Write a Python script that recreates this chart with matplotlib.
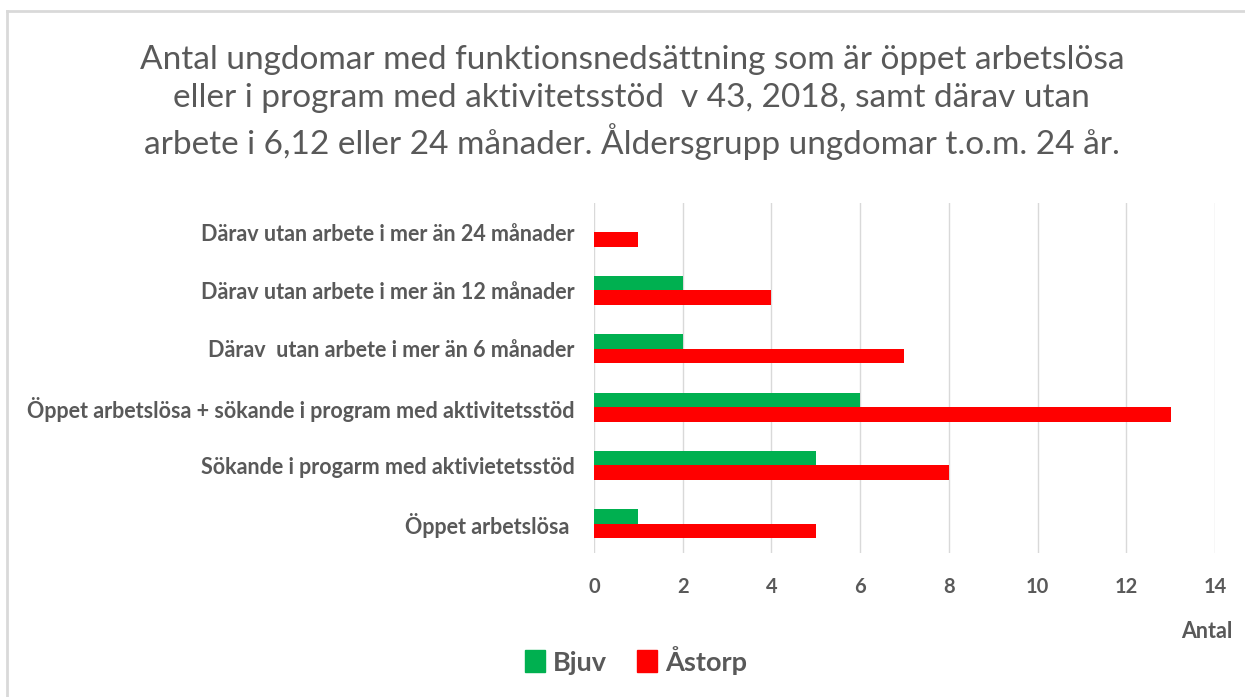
import matplotlib.pyplot as plt
import numpy as np
from matplotlib.patches import Patch
from matplotlib.lines import Line2D

plt.rcParams['font.family'] = ['Lato', 'DejaVu Sans']

# data (bottom to top)
categories = ['Öppet arbetslösa ',
              'Sökande i progarm med aktivietetsstöd',
              'Öppet arbetslösa + sökande i program med aktivitetsstöd',
              'Därav  utan arbete i mer än 6 månader',
              'Därav utan arbete i mer än 12 månader',
              'Därav utan arbete i mer än 24 månader']
bjuv = [1, 5, 6, 2, 2, 0]
astorp = [5, 8, 13, 7, 4, 1]
xticks = [0, 2, 4, 6, 8, 10, 12, 14]

green = '#00B050'
red = '#FF0000'
txt = '#595959'

fig = plt.figure(figsize=(12.45, 6.97), dpi=100)
ax = fig.add_axes([0.4771, 0.2066, 0.4988, 0.5022])

y = np.arange(len(categories))
h = 0.25
ax.barh(y + h/2, bjuv, height=h, color=green, label='Bjuv', zorder=3)
ax.barh(y - h/2, astorp, height=h, color=red, label='Åstorp', zorder=3)

ax.set_xlim(0, 14)
ax.set_ylim(-0.5, len(categories) - 0.5)
ax.set_xticks(xticks)
ax.set_yticks(y)
ax.set_yticklabels(categories)
ax.grid(axis='x', color='#d9d9d9', linewidth=1, zorder=0)
for s in ax.spines.values():
    s.set_visible(False)
ax.tick_params(length=0)
ax.tick_params(axis='y', pad=14, labelsize=15.5, labelcolor=txt)
ax.tick_params(axis='x', pad=17, labelsize=14.5, labelcolor=txt)
for lab in ax.get_xticklabels() + ax.get_yticklabels():
    lab.set_fontweight('bold')

fig.text(0.5075, 0.853,
         'Antal ungdomar med funktionsnedsättning som är öppet arbetslösa\n'
         'eller i program med aktivitetsstöd  v 43, 2018, samt därav utan\n'
         'arbete i 6,12 eller 24 månader. Åldersgrupp ungdomar t.o.m. 24 år.',
         ha='center', va='center', fontsize=24, color=txt,
         linespacing=1.32)

fig.text(0.990, 0.094, 'Antal', ha='right', va='center', fontsize=15.5,
         fontweight='bold', color=txt)

handles = [Patch(color=green), Patch(color=red)]
fig.legend(handles, ['Bjuv', 'Åstorp'], loc='center', bbox_to_anchor=(0.511, 0.053),
           ncol=2, frameon=False, handlelength=0.75, handleheight=0.85,
           handletextpad=0.3, columnspacing=1.1,
           prop={'size': 19.5, 'weight': 'bold'}, labelcolor=txt)

# outer chart frame
fig.add_artist(Line2D([0.0056, 1.0], [0.984, 0.984], transform=fig.transFigure,
                      color='#d9d9d9', linewidth=2))
fig.add_artist(Line2D([0.0056, 0.0056], [0.0, 0.984], transform=fig.transFigure,
                      color='#d9d9d9', linewidth=2))

fig.savefig('out.png', dpi=100)
